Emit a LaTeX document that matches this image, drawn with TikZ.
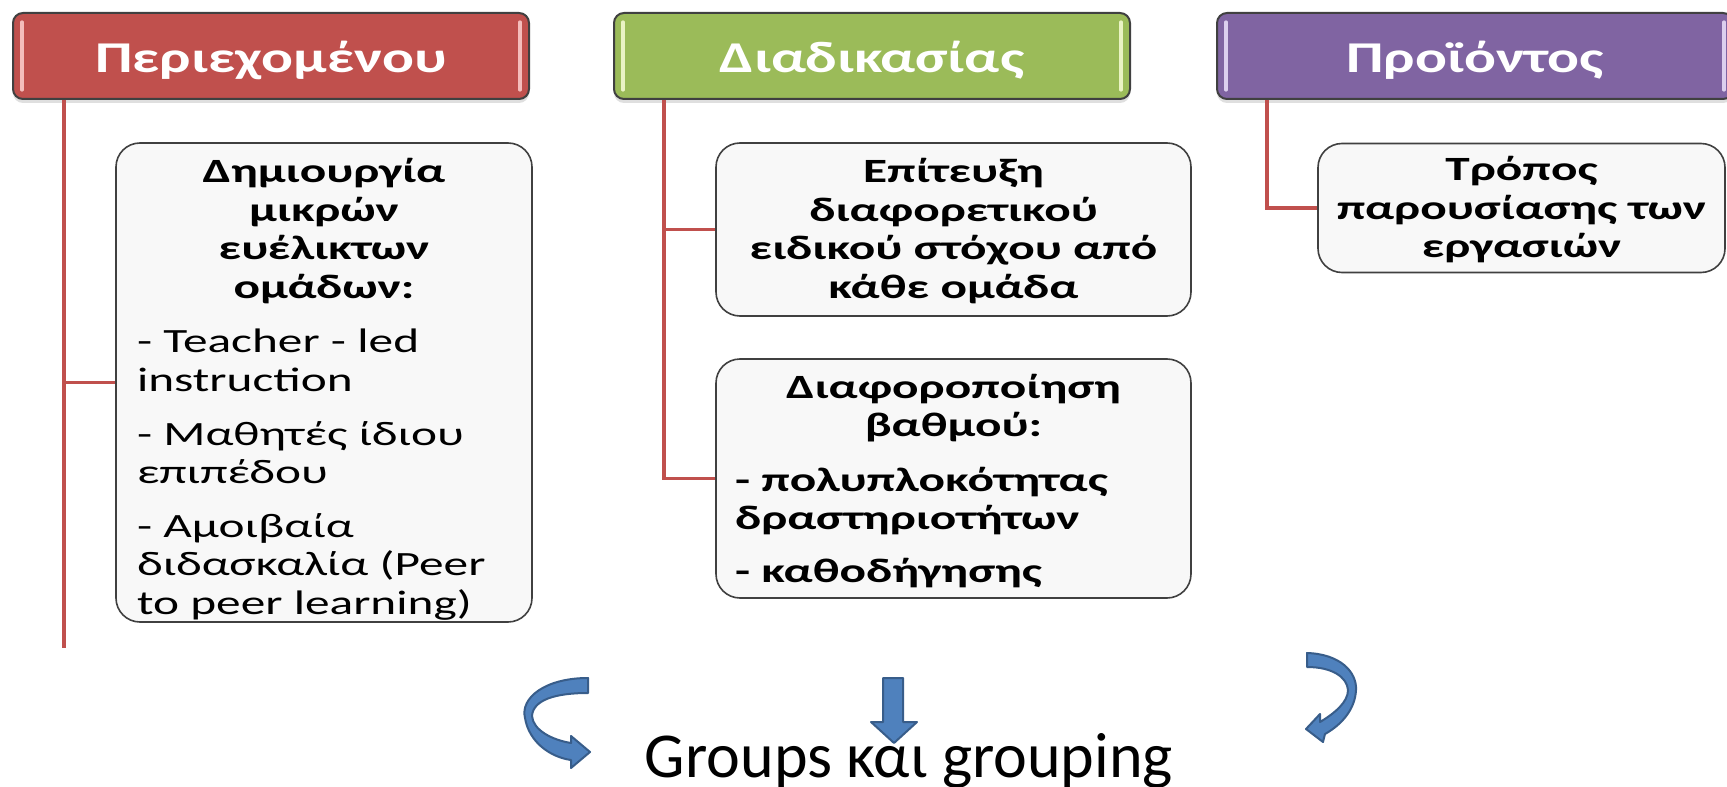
\documentclass[tikz,border=0pt]{standalone}
\usepackage{fontspec}
\setmainfont{Carlito}
\newfontfamily\boxfont{Carlito}[FakeStretch=1.45]
\newfontfamily\headfont{Carlito}[FakeStretch=1.35]
\usetikzlibrary{shadows}
\definecolor{hred}{HTML}{C0504D}
\definecolor{hgreen}{HTML}{9BBB59}
\definecolor{hpurple}{HTML}{8064A2}
\definecolor{lred}{HTML}{F4BDBB}
\definecolor{lgreen}{HTML}{EAF3C4}
\definecolor{lpurple}{HTML}{DCCFEE}
\definecolor{edge}{HTML}{404040}
\definecolor{boxfill}{HTML}{F8F8F8}
\definecolor{arrfill}{HTML}{4F81BD}
\definecolor{arredge}{HTML}{385D8A}
\tikzset{
  header/.style={draw=edge, line width=1pt, rounded corners=5pt,
    minimum width=258pt, minimum height=43pt, text=white,
    font=\headfont\bfseries\fontsize{22}{26}\selectfont,
    text height=17pt, text depth=0pt,
    drop shadow={opacity=0.25, shadow xshift=0pt, shadow yshift=-2pt}},
  hilite/.style={line width=1.6pt, line cap=round},
  card/.style={draw=edge, line width=0.8pt, fill=boxfill, rounded corners=12pt},
  cardtext/.style={anchor=base, inner sep=0pt, text=black,
    font=\boxfont\fontsize{17}{19.25}\selectfont},
  conn/.style={draw=hred, line width=1.75pt},
  bigarrow/.style={fill=arrfill, draw=arredge, line width=1pt, line join=round}
}
\begin{document}
\begin{tikzpicture}[x=0.5pt,y=-0.5pt]
\useasboundingbox (0,0) rectangle (1727,786);
\fill[white] (0,0) rectangle (1727,786);

% boxes (shapes)
\node[card, minimum width=208pt, minimum height=239.5pt] (b1) at (324,382.5) {};
\node[card, minimum width=237.5pt, minimum height=86.5pt] (b2a) at (953.5,229.5) {};
\node[card, minimum width=237.5pt, minimum height=119.5pt] (b2b) at (953.5,478.5) {};
\node[card, minimum width=203.5pt, minimum height=64.5pt] (b3) at (1521.5,208) {};

% connector ends
\coordinate (c1) at (64,648);
\coordinate (c2) at (664,478.5);
\coordinate (c3) at (1267,208);

% headers
\node[header, fill=hred] (h1) at (271,56) {Περιεχομένου};
\node[header, fill=hgreen] (h2) at (872,56) {Διαδικασίας};
\node[header, fill=hpurple] (h3) at (1475,56) {Προϊόντος};

% connectors
\draw[conn] (h1.south -| c1) -- (c1);
\draw[conn] (b1.west -| c1) -- (b1.west);
\draw[conn] (h2.south -| c2) -- (c2) -- (b2b.west);
\draw[conn] (b2a.west -| c2) -- (b2a.west);
\draw[conn] (h3.south -| c3) -- (c3) -- (b3.west);

% header highlights
\foreach \h/\c in {h1/lred, h2/lgreen, h3/lpurple}{
  \draw[hilite, \c] ([xshift=5pt,yshift=-5pt]\h.north west) -- ([xshift=5pt,yshift=5pt]\h.south west);
  \draw[hilite, \c] ([xshift=-5pt,yshift=-5pt]\h.north east) -- ([xshift=-5pt,yshift=5pt]\h.south east);
}

% box texts
\node[cardtext, text width=187pt] (t1) at (324,183) {\parindent=0pt
{\centering\bfseries Δημιουργία\\ μικρών\\ ευέλικτων\\ ομάδων:\par}
\vspace{8pt}
{\raggedright - Teacher - led\\ instruction\par}
\vspace{7.5pt}
{\raggedright - Μαθητές ίδιου\\ επιπέδου\par}
\vspace{7.5pt}
{\raggedright - Αμοιβαία\\ διδασκαλία (Peer\\ to peer learning)\par}};

\node[cardtext, text width=218.5pt] (t2a) at (953.5,183) {\parindent=0pt
{\centering\bfseries Επίτευξη\\ διαφορετικού\\ ειδικού στόχου από\\ κάθε ομάδα\par}};

\node[cardtext, text width=218.5pt] (t2b) at (953.5,398) {\parindent=0pt\bfseries
{\centering Διαφοροποίηση\\ βαθμού:\par}
\vspace{8pt}
{\raggedright - πολυπλοκότητας\\ δραστηριοτήτων\par}
\vspace{7pt}
{\raggedright - καθοδήγησης\par}};

\node[cardtext, text width=190pt] (t3) at (1521.5,181) {\parindent=0pt
{\centering\bfseries Τρόπος\\ παρουσίασης των\\ εργασιών\par}};

% bottom text
\node[anchor=base, inner sep=0pt, font=\fontsize{32}{36}\selectfont] (gk) at (909,777) {Groups και grouping};

% down arrow
\draw[bigarrow] (883,678) -- (903,678) -- (903,722) -- (917,722) -- (894,743) -- (871,722) -- (883,722) -- cycle;

% left curved arrow
\draw[bigarrow] (588,678) .. controls (545,678) and (520,698) .. (525,718)
  .. controls (529,742) and (550,757) .. (571,760)
  -- (571,768) -- (590,752) -- (571,736) -- (571,743)
  .. controls (552,740) and (533,730) .. (532,716)
  .. controls (533,700) and (555,693) .. (588,693) -- cycle;

% right curved arrow
\draw[bigarrow] (1307,653) .. controls (1340,654) and (1357,672) .. (1356,690)
  .. controls (1355,710) and (1341,725) .. (1325,734)
  -- (1323,742) -- (1306,729) -- (1320,714) -- (1320,722)
  .. controls (1335,713) and (1348,702) .. (1348,690)
  .. controls (1347,677) and (1332,667) .. (1307,667) -- cycle;
\end{tikzpicture}
\end{document}
